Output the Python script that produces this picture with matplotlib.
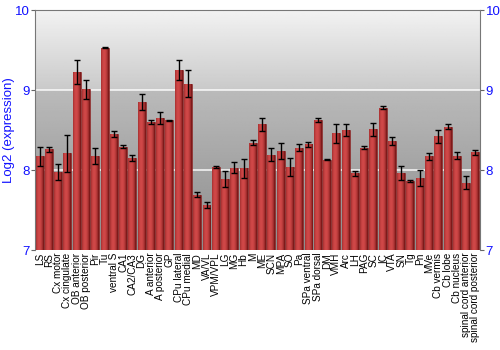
import numpy as np
import matplotlib.pyplot as plt
from matplotlib.colors import LinearSegmentedColormap

plt.rcParams['font.family'] = ['Liberation Sans', 'DejaVu Sans']

# Regions and log2 expression (mean, error)
regions = ['LS', 'RS', 'Cx motor', 'Cx cingulate', 'OB anterior', 'OB posterior',
           'Pir', 'Tu', 'ventral S', 'CA1', 'CA2/CA3', 'DG', 'A anterior',
           'A posterior', 'GP', 'CPu lateral', 'CPu medial', 'MD', 'VA/VL',
           'VPM/VPL', 'LG', 'MG', 'Hb', 'M', 'ME', 'SCN', 'MPA', 'SO', 'Pa',
           'SPa ventral', 'SPa dorsal', 'DM', 'VMH', 'Arc', 'LH', 'PAG', 'SC',
           'IC', 'VTA', 'SN', 'Tg', 'Pn', 'MVe', 'Cb vermis', 'Cb lobe',
           'Cb nucleus', 'spinal cord anterior', 'spinal cord posterior']
values = [8.17, 8.26, 7.97, 8.21, 9.23, 9.01, 8.17, 9.53, 8.45, 8.29, 8.15, 8.85,
          8.60, 8.65, 8.62, 9.25, 9.08, 7.69, 7.56, 8.04, 7.89, 8.03, 8.02, 8.34,
          8.57, 8.19, 8.24, 8.04, 8.28, 8.32, 8.63, 8.13, 8.46, 8.50, 7.96, 8.28,
          8.51, 8.78, 8.36, 7.96, 7.86, 7.90, 8.17, 8.42, 8.54, 8.18, 7.84, 8.22]
errors = [0.115, 0.03, 0.10, 0.23, 0.15, 0.12, 0.10, 0.01, 0.04, 0.02, 0.035, 0.10,
          0.03, 0.08, 0.01, 0.12, 0.17, 0.03, 0.04, 0.01, 0.10, 0.07, 0.12, 0.03,
          0.08, 0.08, 0.10, 0.11, 0.04, 0.03, 0.025, 0.01, 0.12, 0.07, 0.03, 0.02,
          0.08, 0.02, 0.05, 0.09, 0.01, 0.10, 0.04, 0.08, 0.03, 0.04, 0.08, 0.035]

ymin, ymax = 7, 10
blue = '#1010ff'

fig = plt.figure(figsize=(5, 3.5), dpi=100)
ax = fig.add_axes([0.07, 0.2857, 0.89, 0.6857])

n = len(regions)
x = np.arange(n)
ax.set_xlim(-0.5, n - 0.5)
ax.set_ylim(ymin, ymax)

# grey background gradient with a step at 9
yy = np.linspace(ymax, ymin, 300)
shade = np.where(yy >= 9, 0.95 - (10 - yy) * 0.16, 0.73 - (9 - yy) * 0.09)
bg = np.repeat(shade[:, None], 2, axis=1)
ax.imshow(bg, cmap='gray', vmin=0, vmax=1, aspect='auto',
          extent=(-0.5, n - 0.5, ymin, ymax), zorder=0)

for yv in [8, 9]:
    ax.axhline(yv, color='white', lw=1.2, alpha=0.85, zorder=1)

# bars with a cylinder-like shading
width = 0.86
bars = ax.bar(x, np.array(values) - ymin, width, bottom=ymin,
              color='#b53030', edgecolor='#7a1818', linewidth=0.4, zorder=2)
t = np.linspace(0, 1, 40)
prof = np.clip(1 - ((t - 0.4) / 0.6) ** 2, 0, 1)
cm = LinearSegmentedColormap.from_list('cyl', ['#6e1212', '#d04848'])
for b, v in zip(bars, values):
    x0 = b.get_x()
    im = ax.imshow(prof[None, :], cmap=cm, vmin=0, vmax=1, aspect='auto',
                   extent=(x0, x0 + width, ymin, v), zorder=2.5)
    im.set_clip_path(b)

ax.errorbar(x, values, yerr=errors, fmt='none', ecolor='black', elinewidth=1,
            capsize=2.5, capthick=1, zorder=3)

ax.set_xticks(x)
ax.set_xticklabels(regions, rotation=90, fontsize=7.2)
ax.tick_params(axis='x', length=0, pad=2)

ax.set_yticks([7, 8, 9, 10])
ax.tick_params(axis='y', colors='#666666', labelcolor=blue, labelsize=9.5,
               length=3, pad=1, right=True, labelright=True)
ax.set_ylabel('Log2 (expression)', color=blue, fontsize=9.5)
ax.yaxis.set_label_coords(-0.045, 0.5)

for s in ['left', 'right', 'top']:
    ax.spines[s].set_color('#777777')
ax.spines['bottom'].set_visible(False)

fig.savefig('out.png', dpi=100)
